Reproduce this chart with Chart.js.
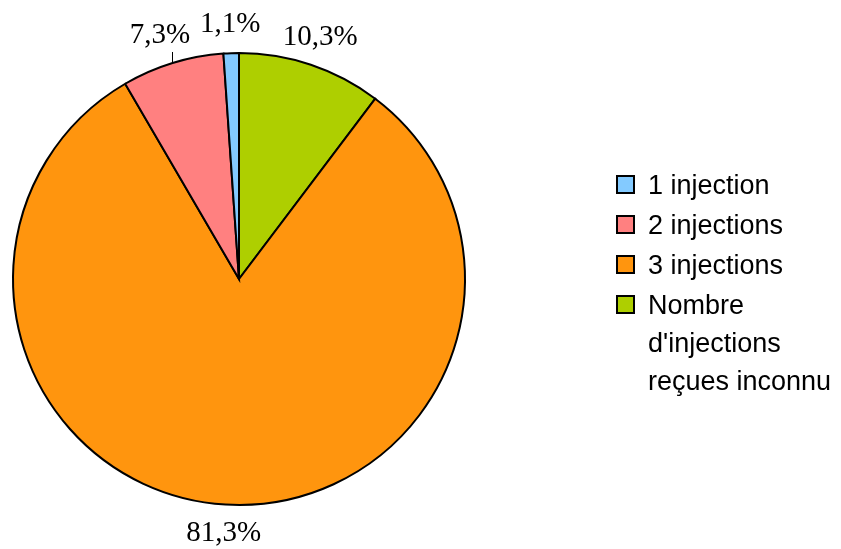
<!DOCTYPE html>
<html>
<head>
<meta charset="utf-8">
<script src="https://cdn.jsdelivr.net/npm/chart.js@4"></script>
<style>
  html, body { margin: 0; padding: 0; background: #fff; }
  #wrap { width: 841px; height: 549px; }
</style>
</head>
<body>
<div id="wrap"><canvas id="chart" width="841" height="549"></canvas></div>
<script>
// drawing order is clockwise from 12 o'clock, legend lists it reversed
const categories = [
  ["Nombre", "d'injections", "reçues inconnu"],
  "3 injections",
  "2 injections",
  "1 injection"
];
const shares = [10.3, 81.3, 7.3, 1.1];
const sliceLabels = ["10,3%", "81,3%", "7,3%", "1,1%"];
const colors = ["#aecf00", "#ff950e", "#ff8080", "#83caff"];

// percentage labels outside the pie
const outsideLabels = {
  id: "outsideLabels",
  afterDatasetsDraw(chart) {
    const ctx = chart.ctx;
    const arcs = chart.getDatasetMeta(0).data;
    ctx.save();
    ctx.font = "29px 'Liberation Serif', 'Times New Roman', serif";
    ctx.fillStyle = "#000";
    ctx.textAlign = "center";
    ctx.textBaseline = "middle";
    arcs.forEach((arc, i) => {
      const mid = (arc.startAngle + arc.endAngle) / 2;
      const r = arc.outerRadius + 29;
      const x = arc.x + Math.cos(mid) * r;
      const y = arc.y + Math.sin(mid) * r;
      ctx.fillText(sliceLabels[i], i === 2 ? x - 4 : x, y);
      if (i === 2) {
        // short leader line for the small pink slice
        const ex = arc.x + Math.cos(mid) * arc.outerRadius;
        const ey = arc.y + Math.sin(mid) * arc.outerRadius;
        ctx.beginPath();
        ctx.strokeStyle = "#000";
        ctx.lineWidth = 1;
        ctx.moveTo(Math.round(ex) - 0.5, ey + 1);
        ctx.lineTo(Math.round(ex) - 0.5, ey - 11);
        ctx.stroke();
      }
    });
    ctx.restore();
  }
};

// legend on the right, drawn beside the plot area
const sideLegend = {
  id: "sideLegend",
  afterDraw(chart) {
    const ctx = chart.ctx;
    const ds = chart.data.datasets[0];
    const x = 617, box = 17, lineH = 38, gap = 40;
    let y = 194; // text baseline of first row
    ctx.save();
    ctx.font = "27px 'Liberation Sans', Arial, sans-serif";
    ctx.textBaseline = "alphabetic";
    ctx.textAlign = "left";
    for (let i = chart.data.labels.length - 1; i >= 0; i--) {
      const lab = chart.data.labels[i];
      const lines = Array.isArray(lab) ? lab : [lab];
      ctx.fillStyle = ds.backgroundColor[i];
      ctx.fillRect(x, y - 18, box, box);
      ctx.strokeStyle = "#000";
      ctx.lineWidth = 2;
      ctx.strokeRect(x, y - 18, box, box);
      ctx.fillStyle = "#000";
      lines.forEach((t, k) => ctx.fillText(t, x + 31, y + k * lineH));
      y += (lines.length - 1) * lineH + gap;
    }
    ctx.restore();
  }
};

new Chart(document.getElementById("chart"), {
  type: "pie",
  data: {
    labels: categories,
    datasets: [{
      data: shares,
      backgroundColor: colors,
      borderColor: "#000",
      borderWidth: 2,
      borderJoinStyle: "miter"
    }]
  },
  options: {
    responsive: false,
    animation: false,
    layout: { padding: { left: 12, top: 52, right: 375, bottom: 43 } },
    plugins: {
      legend: { display: false },
      tooltip: { enabled: false }
    }
  },
  plugins: [outsideLabels, sideLegend]
});
</script>
</body>
</html>
